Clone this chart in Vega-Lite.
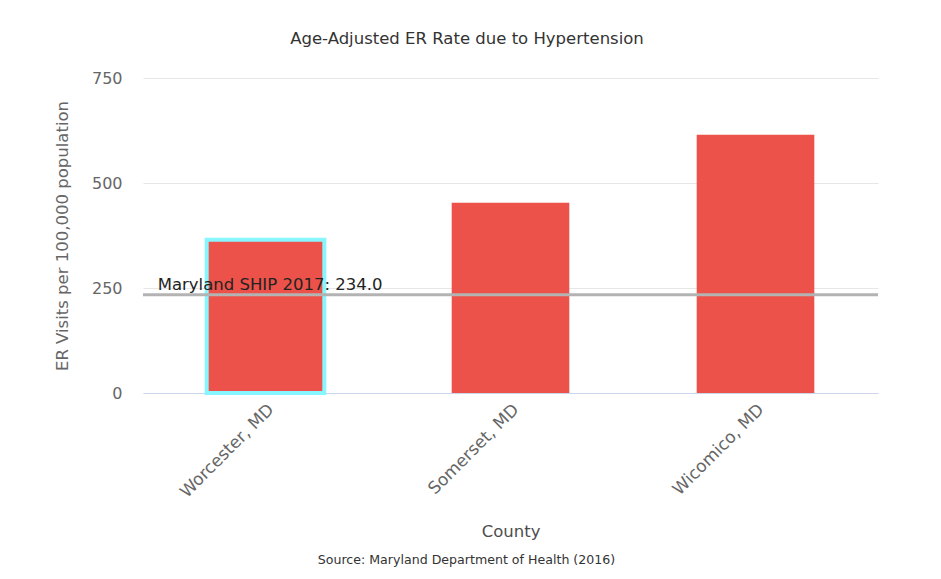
{
  "$schema": "https://vega.github.io/schema/vega-lite/v6.json",
  "width": 735,
  "height": 315,
  "autosize": {"type": "none"},
  "padding": {"left": 143, "top": 78, "right": 63, "bottom": 186},
  "background": "white",
  "title": {
    "text": "Age-Adjusted ER Rate due to Hypertension",
    "frame": "bounds",
    "anchor": "middle",
    "fontSize": 16.5,
    "font": "DejaVu Sans",
    "fontWeight": "normal",
    "color": "#333333",
    "offset": 23
  },
  "config": {"view": {"stroke": null}, "font": "DejaVu Sans"},
  "data": {
    "values": [
      {"county": "Worcester, MD", "rate": 365},
      {"county": "Somerset, MD", "rate": 453},
      {"county": "Wicomico, MD", "rate": 615}
    ]
  },
  "layer": [
    {
      "layer": [
        {
          "mark": {"type": "bar", "color": "#EC5249"},
          "encoding": {
            "x": {
              "field": "county",
              "type": "nominal",
              "sort": null,
              "scale": {"paddingInner": 0.52, "paddingOuter": 0.26},
              "axis": {
                "title": "County",
                "titleFontSize": 16.5,
                "titleFontWeight": "normal",
                "titleColor": "#4d4d4d",
                "titlePadding": 23,
                "labelAngle": -45,
                "labelFontSize": 17,
                "labelColor": "#666666",
                "labelPadding": 8,
                "ticks": false,
                "domainColor": "#ccd6eb",
                "grid": false
              }
            },
            "y": {
              "field": "rate",
              "type": "quantitative",
              "scale": {"domain": [0, 750], "nice": false},
              "axis": {
                "title": "ER Visits per 100,000 population",
                "titleFontSize": 16.5,
                "titleFontWeight": "normal",
                "titleColor": "#666666",
                "titlePadding": 21,
                "values": [0, 250, 500, 750],
                "labelFontSize": 16,
                "labelColor": "#666666",
                "labelPadding": 21,
                "ticks": false,
                "domain": false,
                "gridColor": "#e6e6e6"
              }
            },
            "stroke": {
              "condition": {"test": "datum.county === 'Worcester, MD'", "value": "#88F6FF"},
              "value": null
            },
            "strokeWidth": {
              "condition": {"test": "datum.county === 'Worcester, MD'", "value": 4},
              "value": 0
            }
          }
        },
        {
          "data": {"values": [{"benchmark": "Maryland SHIP 2017", "value": 234, "label": "Maryland SHIP 2017: 234.0"}]},
          "mark": {"type": "rule", "color": "#b3b3b3", "strokeWidth": 3},
          "encoding": {"y": {"field": "value", "type": "quantitative"}}
        },
        {
          "data": {"values": [{"benchmark": "Maryland SHIP 2017", "value": 234, "label": "Maryland SHIP 2017: 234.0"}]},
          "mark": {"type": "text", "align": "left", "baseline": "bottom", "dx": -49, "dy": -2, "fontSize": 16.5, "color": "#222222"},
          "encoding": {
            "x": {"datum": "Worcester, MD", "bandPosition": 0},
            "y": {"field": "value", "type": "quantitative"},
            "text": {"field": "label"}
          }
        }
      ]
    },
    {
      "mark": {"type": "text"},
      "encoding": {
        "x": {
          "field": "county",
          "type": "nominal",
          "sort": null,
          "axis": {
            "orient": "bottom",
            "title": "Source: Maryland Department of Health (2016)",
            "labels": false,
            "ticks": false,
            "domain": false,
            "grid": false,
            "titlePadding": 160,
            "titleX": 323,
            "titleFontSize": 12.6,
            "titleFontWeight": "normal",
            "titleColor": "#333333"
          }
        },
        "text": {"value": ""}
      }
    }
  ],
  "resolve": {"scale": {"x": "independent"}}
}
